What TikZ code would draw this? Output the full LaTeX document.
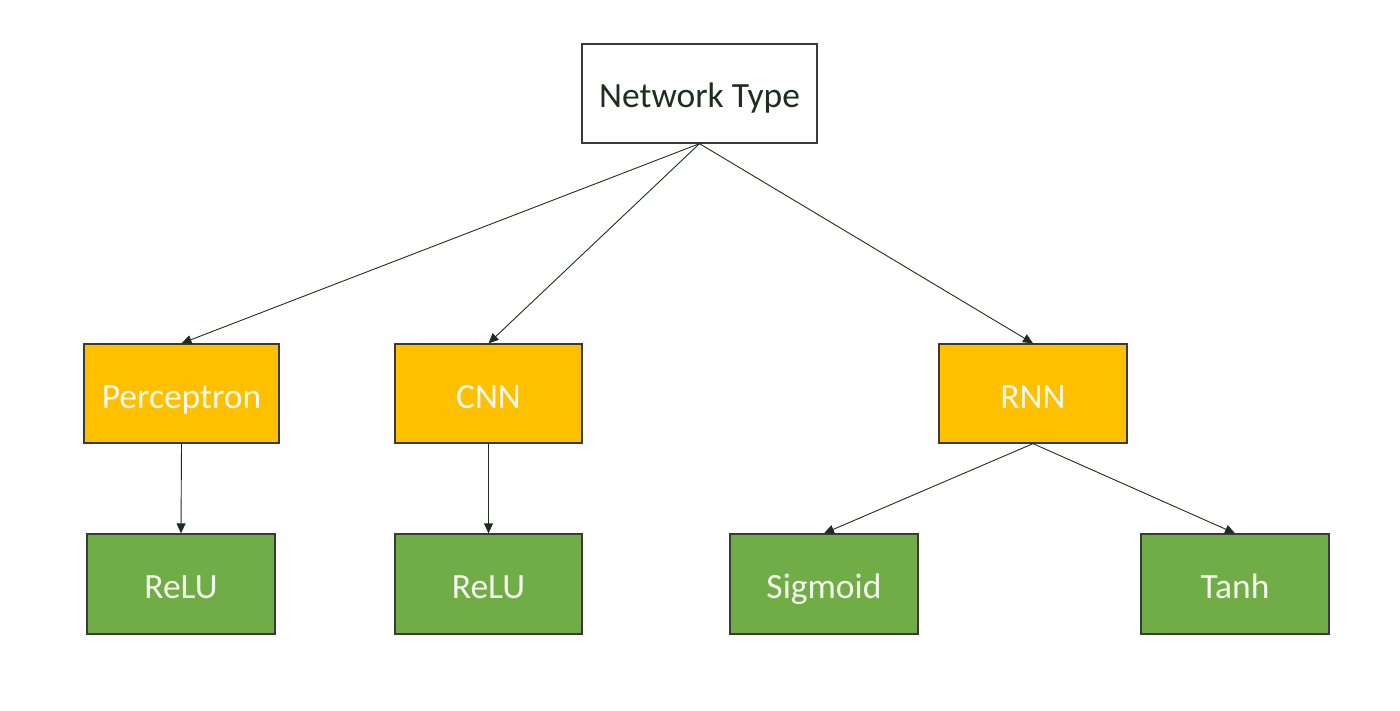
\documentclass[tikz,border=0pt]{standalone}
\usepackage{fontspec}
\setmainfont{Carlito}
\usetikzlibrary{arrows.meta}
\definecolor{orng}{HTML}{FFC000}
\definecolor{grn}{HTML}{70AD47}
\definecolor{edge}{HTML}{3A3A3A}
\definecolor{linec}{HTML}{1E2E1E}
\definecolor{txtw}{HTML}{F4F8EE}
\begin{document}
\begin{tikzpicture}[x=1pt,y=-1pt,
  box/.style={draw=edge,line width=1.3pt,minimum height=99pt,inner sep=0pt,text height=30pt,text depth=1pt,font=\fontsize{35.5}{40}\selectfont},
  topbox/.style={box,fill=white,text=linec,minimum width=235pt},
  midbox/.style={box,fill=orng,text=txtw},
  leafbox/.style={box,fill=grn,text=txtw,minimum width=188pt,minimum height=100pt},
  conn/.style={draw=linec,line width=0.9pt,-{Triangle[length=10pt,width=9pt]}}]
\useasboundingbox (0,0) rectangle (1400,711);
\node[topbox] (nt) at (699.5,93.5) {Network Type};
\node[midbox,minimum width=195pt] (perc) at (181.5,393.5) {Perceptron};
\node[midbox,minimum width=187pt] (cnn) at (488.5,393.5) {CNN};
\node[midbox,minimum width=188pt] (rnn) at (1033,393.5) {RNN};
\node[leafbox] (relu1) at (181,584) {ReLU};
\node[leafbox,minimum width=187pt] (relu2) at (488.5,584) {ReLU};
\node[leafbox] (sig) at (824,584) {Sigmoid};
\node[leafbox] (tanh) at (1235,584) {Tanh};
\draw[conn] (nt.south) -- (perc.north);
\draw[conn] (nt.south) -- (cnn.north);
\draw[conn] (nt.south) -- (rnn.north);
\draw[conn] (perc.south) -- (relu1.north);
\draw[conn] (cnn.south) -- (relu2.north);
\draw[conn] (rnn.south) -- (sig.north);
\draw[conn] (rnn.south) -- (tanh.north);
\end{tikzpicture}
\end{document}
